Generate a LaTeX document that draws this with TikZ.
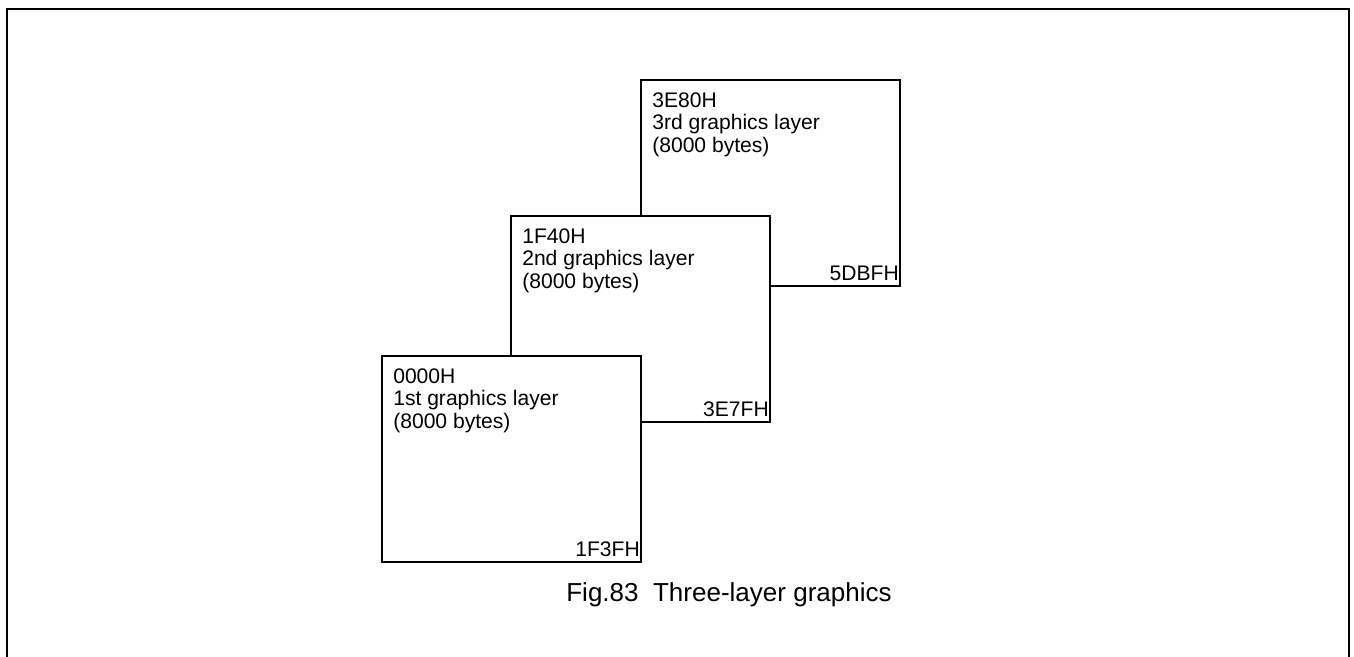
\documentclass[tikz,border=0pt]{standalone}
\usepackage{fontspec}
\setmainfont{Liberation Sans}
\usepackage{tikz}
\usetikzlibrary{positioning, calc}
\tikzset{
  lyr/.style ={rectangle, draw, line width=1.4pt, fill=white, inner sep=0pt, minimum width=6.475cm, minimum height=5.15cm},
  txt/.style ={align=left, inner sep=0pt, font=\fontsize{15}{16.2}\selectfont},
  adr/.style ={inner sep=0pt, font=\fontsize{15}{16.2}\selectfont},
  figcap/.style ={inner sep=0pt, font=\fontsize{18.5}{21}\selectfont},
  frm/.style ={line width=1.4pt},
}
\begin{document}
\begin{tikzpicture}[x=0.025cm, y=-0.025cm]
\useasboundingbox (0,0) rectangle (1354,657);

% outer frame (open at the bottom)
\draw[frm] (7,657) -- (7,9) -- (1349,9) -- (1349,657);

% layers, back to front
\node[lyr, anchor=north west] (lay3) at (640,79) {};
\node[lyr, anchor=north west] (lay2) at (510,215) {};
\node[lyr, anchor=north west] (lay1) at (381,355) {};

% start addresses and names
\node[txt, anchor=north west] (lay3txt) at ($(lay3.north west)+(12,13)$) {3E80H\\3rd graphics layer\\(8000 bytes)};
\node[txt, anchor=north west] (lay2txt) at ($(lay2.north west)+(12,13)$) {1F40H\\2nd graphics layer\\(8000 bytes)};
\node[txt, anchor=north west] (lay1txt) at ($(lay1.north west)+(12,13)$) {0000H\\1st graphics layer\\(8000 bytes)};

% end addresses
\node[adr, anchor=south east] (lay3end) at ($(lay3.south east)+(-2,-6)$) {5DBFH};
\node[adr, anchor=south east] (lay2end) at ($(lay2.south east)+(-2,-6)$) {3E7FH};
\node[adr, anchor=south east] (lay1end) at ($(lay1.south east)+(-2,-6)$) {1F3FH};

% caption
\node[figcap, anchor=base] (fig) at (729,601) {Fig.83\ \ Three-layer graphics};

\end{tikzpicture}
\end{document}
